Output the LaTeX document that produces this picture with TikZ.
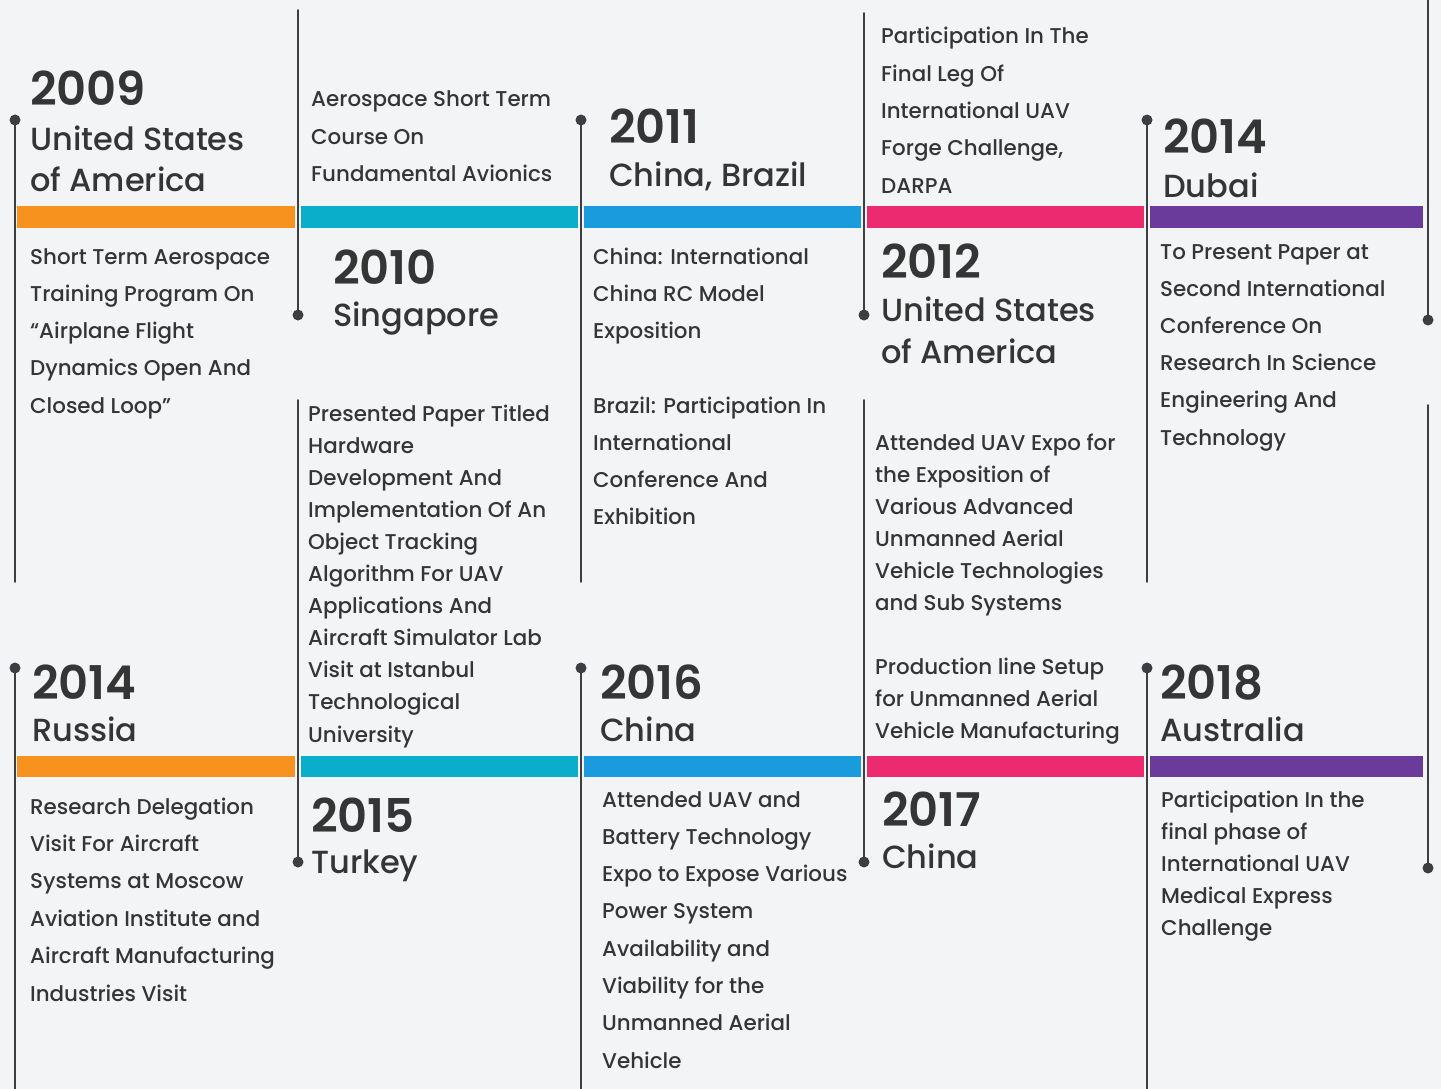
\documentclass[tikz,border=0pt]{standalone}
\usepackage{fontspec}
\setmainfont{Poppins}[UprightFont=* Medium, BoldFont=* SemiBold]
\definecolor{bg}{HTML}{F3F4F6}
\definecolor{ink}{HTML}{353535}
\definecolor{stemgray}{HTML}{3E3E42}
\definecolor{corange}{HTML}{F7921E}
\definecolor{ccyan}{HTML}{0AAECB}
\definecolor{cblue}{HTML}{1A9BDD}
\definecolor{cpink}{HTML}{EC2A70}
\definecolor{cpurple}{HTML}{6A3B9B}
% lines of text: name, style, x, first line, step, list
\newcommand\txtlines[6]{%
  \foreach \t [count=\i] in {#6}
    \node[#2] (#1\i) at (#3,{#4+7+(\i-1)*#5}) {\t};}
\begin{document}
\begin{tikzpicture}[x=1pt, y=-1pt, line cap=round,
    year/.style={font=\fontsize{46.5}{50}\selectfont\bfseries, anchor=base west, inner sep=0, text=ink},
    country/.style={font=\fontsize{32}{36}\selectfont, anchor=base west, inner sep=0, text=ink},
    body/.style={font=\fontsize{21.4}{25}\selectfont, anchor=base west, inner sep=0, text=ink},
    dot/.style={circle, fill=stemgray, inner sep=0, minimum size=11pt},
    stem/.style={draw=stemgray, line width=1.9pt}]
	\useasboundingbox (0,0) rectangle (1441,1089);
	\fill[bg] (0,0) rectangle (1441,1089);
	% colour bars
	\foreach \x/\w/\c in {17/278/corange, 301/277/ccyan, 584/277/cblue, 867/277/cpink, 1150/273/cpurple}{
		\fill[\c] (\x,206) rectangle ++(\w,22);
		\fill[\c] (\x,756) rectangle ++(\w,21);
	}
	% stems, upper row
	\node[dot] (t1) at (15,120) {};   \coordinate (t1e) at (15,582);
	\node[dot] (t2) at (298,315) {};  \coordinate (t2e) at (298,10);
	\node[dot] (t3) at (581,120) {};  \coordinate (t3e) at (581,582);
	\node[dot] (t4) at (864,315) {};  \coordinate (t4e) at (864,13);
	\node[dot] (t5) at (1147,120) {}; \coordinate (t5e) at (1147,582);
	\node[dot] (t6) at (1428,320) {}; \coordinate (t6e) at (1428,0);
	% stems, lower row
	\node[dot] (b1) at (15,668) {};   \coordinate (b1e) at (15,1089);
	\node[dot] (b2) at (298,862) {};  \coordinate (b2e) at (298,400);
	\node[dot] (b3) at (581,668) {};  \coordinate (b3e) at (581,1089);
	\node[dot] (b4) at (864,862) {};  \coordinate (b4e) at (864,400);
	\node[dot] (b5) at (1147,668) {}; \coordinate (b5e) at (1147,1089);
	\node[dot] (b6) at (1428,868) {}; \coordinate (b6e) at (1428,405);
	\foreach \n in {t1,t2,t3,t4,t5,t6,b1,b2,b3,b4,b5,b6}
		\draw[stem] (\n.center) -- (\n e);
	% upper row
	\node[year] (y2009) at (30,106) {2009};
	\node[country] (usa1) at (30,150) {United States};
	\node[country] (usa2) at (30,192) {of America};
	\txtlines{p1-}{body}{30}{257}{37.3}{Short Term Aerospace, Training Program On, “Airplane Flight, Dynamics Open And, Closed Loop”}
	\txtlines{p2-}{body}{311}{100}{37.3}{Aerospace Short Term, Course On, Fundamental Avionics}
	\node[year] (y2010) at (333,284) {2010};
	\node[country] (sgp) at (333,326) {Singapore};
	\txtlines{p3-}{body}{308}{414}{32.1}{Presented Paper Titled, Hardware, Development And, Implementation Of An, Object Tracking, Algorithm For UAV, Applications And, Aircraft Simulator Lab, Visit at Istanbul, Technological, University}
	\node[year] (y2011) at (609,144) {2011};
	\node[country] (chbr) at (609,186) {China, Brazil};
	\txtlines{p4-}{body}{593}{257}{37.3}{{China: International}, China RC Model, Exposition}
	\txtlines{p5-}{body}{593}{406}{37.3}{{Brazil: Participation In}, International, Conference And, Exhibition}
	\txtlines{p6-}{body}{881}{37}{37.3}{Participation In The, Final Leg Of, International UAV, {Forge Challenge,}, DARPA}
	\node[year] (y2012) at (881,278) {2012};
	\node[country] (usa3) at (881,321) {United States};
	\node[country] (usa4) at (881,363) {of America};
	\txtlines{p7-}{body}{875}{443}{32}{Attended UAV Expo for, the Exposition of, Various Advanced, Unmanned Aerial, Vehicle Technologies, and Sub Systems}
	\txtlines{p8-}{body}{875}{667}{32}{Production line Setup, for Unmanned Aerial, Vehicle Manufacturing}
	\node[year] (y2014a) at (1163,154) {2014};
	\node[country] (dxb) at (1163,197) {Dubai};
	\txtlines{p9-}{body}{1160}{252}{37.2}{To Present Paper at, Second International, Conference On, Research In Science, Engineering And, Technology}
	% lower row
	\node[year] (y2014b) at (32,699) {2014};
	\node[country] (rus) at (32,741) {Russia};
	\txtlines{q1-}{body}{30}{807}{37.4}{Research Delegation, Visit For Aircraft, Systems at Moscow, Aviation Institute and, Aircraft Manufacturing, Industries Visit}
	\node[year] (y2015) at (311,832) {2015};
	\node[country] (tur) at (311,873) {Turkey};
	\node[year] (y2016) at (600,699) {2016};
	\node[country] (chn1) at (600,741) {China};
	\txtlines{q2-}{body}{602}{800}{37.3}{Attended UAV and, Battery Technology, Expo to Expose Various, Power System, Availability and, Viability for the, Unmanned Aerial, Vehicle}
	\node[year] (y2017) at (882,826) {2017};
	\node[country] (chn2) at (882,868) {China};
	\node[year] (y2018) at (1160,699) {2018};
	\node[country] (aus) at (1160,741) {Australia};
	\txtlines{q3-}{body}{1161}{800}{32}{Participation In the, final phase of, International UAV, Medical Express, Challenge}
\end{tikzpicture}
\end{document}
